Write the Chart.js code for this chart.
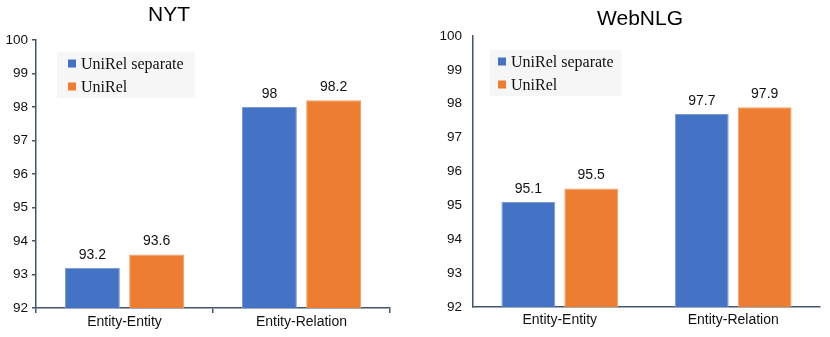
<!DOCTYPE html>
<html>
<head>
<meta charset="utf-8">
<script src="https://cdn.jsdelivr.net/npm/chart.js@4.4.1/dist/chart.umd.min.js"></script>
<style>
    html, body { margin: 0; padding: 0; background: #fff; }
    #wrap { position: relative; width: 830px; height: 337px; }
    .box { position: absolute; top: 0; width: 415px; height: 337px; }
</style>
</head>
<body>
<div id="wrap">
    <div class="box" style="left:0"><canvas id="chartNyt"></canvas></div>
    <div class="box" style="left:415px"><canvas id="chartWeb"></canvas></div>
</div>
<script>
// datos
const categorias = ["Entity-Entity", "Entity-Relation"];
const series = ["UniRel separate", "UniRel"];
const nytSeparate = [93.2, 98];
const nytUniRel = [93.6, 98.2];
const webSeparate = [95.1, 97.7];
const webUniRel = [95.5, 97.9];
const yMin = 92;
const yMax = 100;

const colores = ['#4472C4', '#ED7D31'];
const bordes = ['#7b9bd6', '#f2a36e'];
const ejeColor = '#44546a';
const fuenteSans = '"Liberation Sans", Arial, Helvetica, sans-serif';
const fuenteSerif = '"Liberation Serif", "Times New Roman", serif';

// etiquetas de valor encima de cada barra
const etiquetasPlugin = {
    id: 'etiquetas',
    afterDatasetsDraw(chart) {
        const ctx = chart.ctx;
        ctx.save();
        ctx.font = '14px ' + fuenteSans;
        ctx.fillStyle = '#111';
        ctx.textAlign = 'center';
        ctx.textBaseline = 'alphabetic';
        chart.data.datasets.forEach((ds, i) => {
            chart.getDatasetMeta(i).data.forEach((bar, j) => {
                ctx.fillText(String(ds.data[j]), bar.x, bar.y - 9);
            });
        });
        ctx.restore();
    }
};

// leyenda dentro del area del grafico, con fondo gris claro
const leyendaPlugin = {
    id: 'leyendaCaja',
    afterDraw(chart, args, opts) {
        const ctx = chart.ctx;
        const area = chart.chartArea;
        ctx.save();
        ctx.font = '16px ' + fuenteSerif;
        let anchoTexto = 0;
        chart.data.datasets.forEach(ds => {
            anchoTexto = Math.max(anchoTexto, ctx.measureText(ds.label).width);
        });
        const x = area.left + opts.dx;
        const y = area.top + opts.dy;
        const ancho = opts.pad + 8 + 5 + anchoTexto + opts.pad;
        ctx.fillStyle = '#f6f6f6';
        ctx.fillRect(x, y, ancho, 46);
        ctx.textBaseline = 'middle';
        chart.data.datasets.forEach((ds, i) => {
            const cy = y + 11.5 + i * 23;
            ctx.fillStyle = ds.backgroundColor;
            ctx.fillRect(x + opts.pad, cy - 4, 8, 8);
            ctx.fillStyle = '#111';
            ctx.fillText(ds.label, x + opts.pad + 13, cy + 1);
        });
        ctx.restore();
    }
};

// titulo del panel
const tituloPlugin = {
    id: 'tituloPanel',
    afterDraw(chart, args, opts) {
        const ctx = chart.ctx;
        ctx.save();
        ctx.font = '21px ' + fuenteSans;
        ctx.fillStyle = '#000';
        ctx.textAlign = 'center';
        ctx.textBaseline = 'middle';
        ctx.fillText(opts.texto, opts.x, opts.y);
        ctx.restore();
    }
};

function crearGrafico(id, valoresSep, valoresUni, cfg) {
    const ctx = document.getElementById(id).getContext('2d');
    return new Chart(ctx, {
        type: 'bar',
        data: {
            labels: categorias,
            datasets: [
                { label: series[0], data: valoresSep, backgroundColor: colores[0], borderColor: bordes[0], borderWidth: 1 },
                { label: series[1], data: valoresUni, backgroundColor: colores[1], borderColor: bordes[1], borderWidth: 1 }
            ]
        },
        options: {
            responsive: false,
            animation: false,
            categoryPercentage: 0.725,
            barPercentage: 0.855,
            layout: {
                padding: { top: cfg.top, right: cfg.right, left: 0, bottom: 0 }
            },
            plugins: {
                legend: { display: false },
                tooltip: { enabled: false },
                leyendaCaja: { dx: cfg.legDx, dy: cfg.legDy, pad: cfg.legPad },
                tituloPanel: { texto: cfg.titulo, x: cfg.tituloX, y: cfg.tituloY }
            },
            scales: {
                x: {
                    grid: {
                        drawOnChartArea: false,
                        drawTicks: cfg.ticks,
                        tickLength: 5,
                        color: ejeColor,
                        lineWidth: 1.5
                    },
                    border: { color: ejeColor, width: 1.5 },
                    ticks: {
                        color: '#111',
                        padding: cfg.xPad,
                        font: { size: 14, family: fuenteSans }
                    },
                    afterFit: s => { s.height = cfg.xAlto; }
                },
                y: {
                    min: yMin,
                    max: yMax,
                    grid: {
                        drawOnChartArea: false,
                        drawTicks: cfg.ticks,
                        tickLength: 4,
                        color: ejeColor,
                        lineWidth: 1.5
                    },
                    border: { color: ejeColor, width: 1.5 },
                    ticks: {
                        stepSize: 1,
                        color: '#111',
                        padding: cfg.yPad,
                        font: { size: 13.5, family: fuenteSans }
                    },
                    afterFit: s => { s.width = cfg.yAncho; }
                }
            }
        },
        plugins: [etiquetasPlugin, leyendaPlugin, tituloPlugin]
    });
}

function ajustarCanvas(id) {
    const c = document.getElementById(id);
    c.width = 415;
    c.height = 337;
    c.style.width = '415px';
    c.style.height = '337px';
}

ajustarCanvas('chartNyt');
ajustarCanvas('chartWeb');

crearGrafico('chartNyt', nytSeparate, nytUniRel, {
    top: 40, right: 25, yAncho: 36, xAlto: 29, ticks: true, xPad: 1, yPad: 4,
    legDx: 21, legDy: 12, legPad: 11,
    titulo: 'NYT', tituloX: 169, tituloY: 15
});

crearGrafico('chartWeb', webSeparate, webUniRel, {
    top: 36, right: 10, yAncho: 58, xAlto: 30, ticks: false, xPad: 5, yPad: 11,
    legDx: 17, legDy: 14, legPad: 8,
    titulo: 'WebNLG', tituloX: 225, tituloY: 19
});
</script>
</body>
</html>
